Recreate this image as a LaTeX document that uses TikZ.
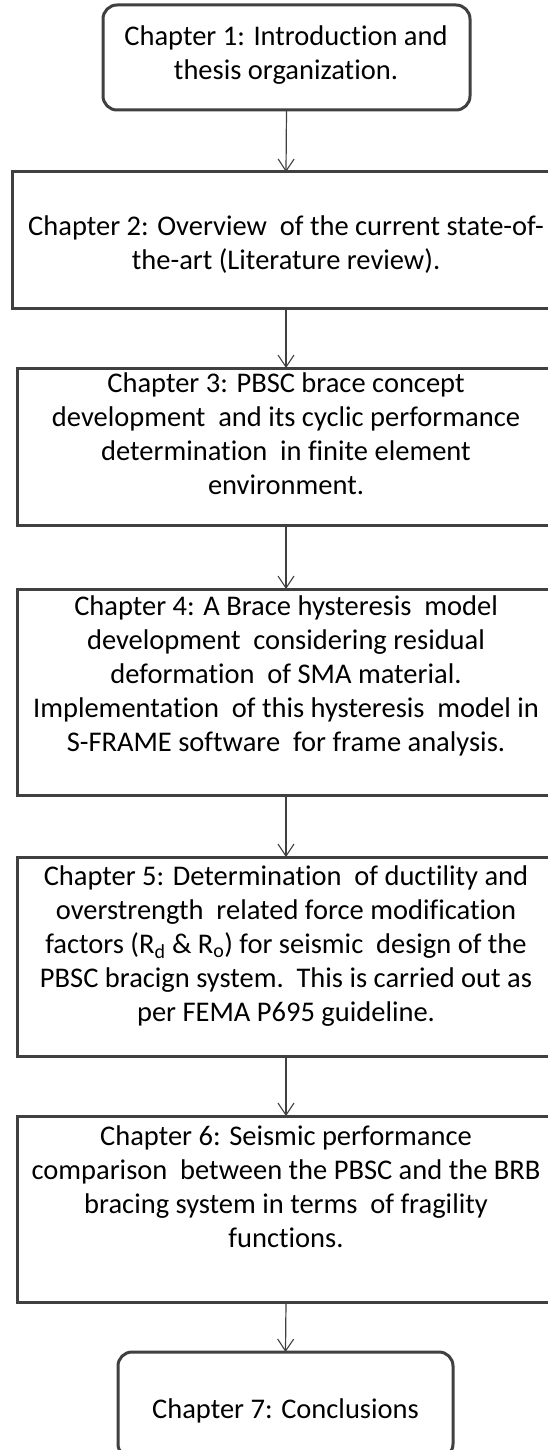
\documentclass[tikz,border=0pt]{standalone}
\usepackage{fontspec}
\setmainfont{Carlito}[Ligatures=NoCommon]
\usetikzlibrary{arrows.meta}
\definecolor{bd}{HTML}{404040}
\newcommand{\xs}{\hspace{0.45em}}
\begin{document}
\begin{tikzpicture}[x=1pt,y=-1pt,
  box/.style={draw=bd,line width=3pt,inner sep=0pt,outer sep=0pt,fill=white},
  rbox/.style={box,rounded corners=14pt},
  txt/.style={align=center,inner sep=0pt,font=\fontsize{28.5pt}{34pt}\selectfont},
  arr/.style={draw=bd,line width=1.2pt,-{Straight Barb[length=12pt,width=16pt,line width=1.1pt]}}]
\useasboundingbox (0,0) rectangle (548,1450);
\clip (0,0) rectangle (548,1450);
\node[rbox,minimum width=367pt,minimum height=105pt] (b1) at (286.5,57.5) {};
\node[box,minimum width=548pt,minimum height=136pt] (b2) at (286,240) {};
\node[box,minimum width=538pt,minimum height=157pt] (b3) at (286,446.5) {};
\node[box,minimum width=538pt,minimum height=206pt] (b4) at (286,692) {};
\node[box,minimum width=538pt,minimum height=199pt] (b5) at (286,956.5) {};
\node[box,minimum width=538pt,minimum height=186pt] (b6) at (286,1209) {};
\node[rbox,minimum width=335pt,minimum height=106pt] (b7) at (285.5,1405) {};
\node[txt] (t1) at (286,55) {Chapter 1: Introduction and\\thesis organization.};
\node[txt] (t2) at (286,245) {Chapter 2: Overview\xs of the current state-of-\\the-art (Literature review).};
\node[txt] (t3) at (286,434) {Chapter 3: PBSC brace concept\\development\xs and its cyclic performance\\determination\xs in finite element\\environment.};
\node[txt] (t4) at (286,676) {Chapter 4: A Brace hysteresis\xs model\\development\xs considering residual\\deformation\xs of SMA material.\\Implementation\xs of this hysteresis\xs model in\\S-FRAME software\xs for frame analysis.};
\node[txt] (t5) at (286,946) {Chapter 5: Determination\xs of ductility and\\overstrength\xs related force modification\\factors (R\textsubscript{d} \& R\textsubscript{o}) for seismic\xs design of the\\PBSC bracign system.\xs This is carried out as\\per FEMA P695 guideline.};
\node[txt] (t6) at (286,1187) {Chapter 6: Seismic performance\\comparison\xs between the PBSC and the BRB\\bracing system in terms\xs of fragility\\functions.};
\node[txt] (t7) at (285.5,1411) {Chapter 7: Conclusions};
\draw[arr] (b1.south) -- (b2.north);
\draw[arr] (b2.south) -- (b3.north);
\draw[arr] (b3.south) -- (b4.north);
\draw[arr] (b4.south) -- (b5.north);
\draw[arr] (b5.south) -- (b6.north);
\draw[arr] (b6.south) -- (b7.north);
\end{tikzpicture}
\end{document}
